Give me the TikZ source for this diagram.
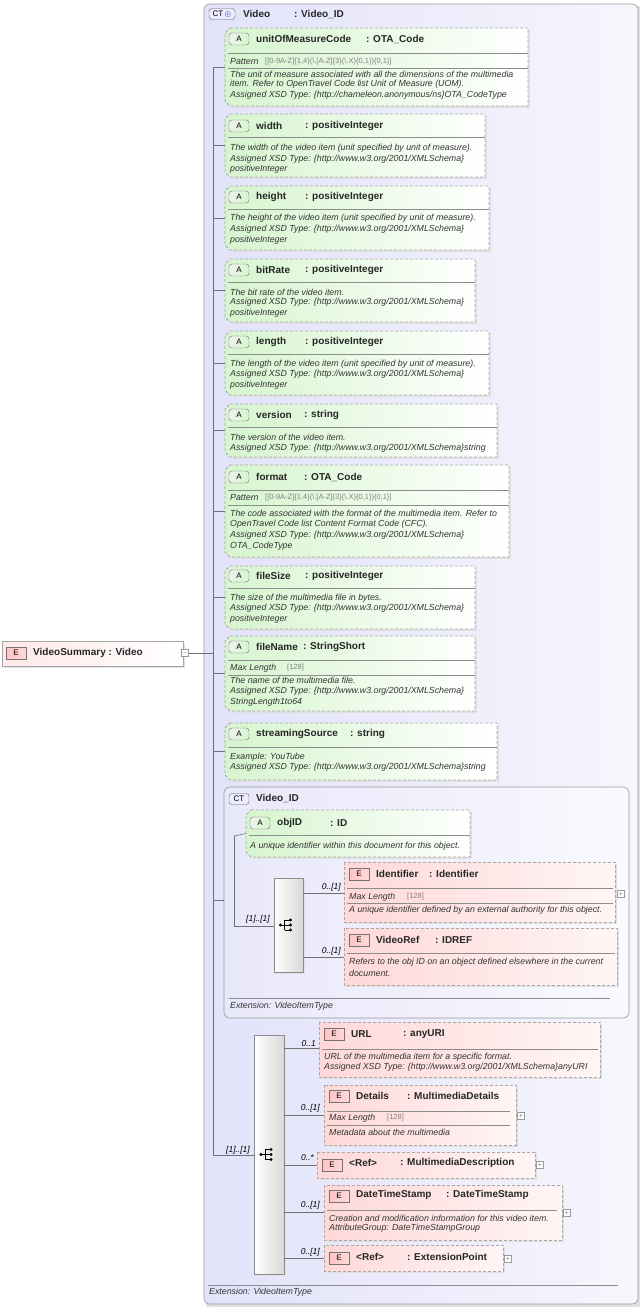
\documentclass[tikz,border=0pt]{standalone}
\usepackage{fontspec}
\setmainfont{Liberation Sans}
\usetikzlibrary{shapes.misc}
\definecolor{bord}{HTML}{A8A8A8}
\definecolor{ctf}{HTML}{E2E2FA}
\definecolor{grn}{HTML}{D6F5CE}
\definecolor{pnk}{HTML}{FFD8D8}
\definecolor{ln}{HTML}{707070}
\tikzset{
 dsh/.style={draw=bord,dash pattern=on 3pt off 2pt,line width=0.8pt},
 attrf/.style={dsh,left color=grn,right color=white},
 elf/.style={dsh,left color=pnk,right color=pnk!25},
 shad/.style={fill=black!12},
 con/.style={draw=ln,line width=0.6pt},
 ttl/.style={font=\bfseries\fontsize{10}{11}\selectfont,anchor=west,inner sep=0pt,text=black!85},
 dsc/.style={font=\itshape\fontsize{8.8}{9}\selectfont,anchor=west,inner sep=0pt,text=black!80},
 pat/.style={font=\fontsize{7.5}{8}\selectfont,anchor=west,inner sep=0pt,text=black!50},
 mult/.style={font=\itshape\fontsize{8.5}{9}\selectfont,anchor=east,inner sep=0pt},
 plusb/.style={draw=black!40,fill=white,minimum size=7pt,inner sep=0pt,font=\fontsize{7}{7}\selectfont,text=black!50},
}
\newcounter{tn}
\newcommand\txt[4]{\stepcounter{tn}\node[#1] (t\thetn) at (#2,-#3) {#4};}
\newcommand\sep[3]{\draw[draw=black!45,line width=0.5pt] (#1,-#3) -- (#2,-#3);}
\newcommand\abox[5]{%
 \fill[shad] (#2+7,-#3-2) -- (#4+2,-#3-2) -- (#4+2,-#5-2) -- (#2+7,-#5-2) -- cycle;
 \draw[attrf] (#2+5,-#3) -- (#4,-#3) -- (#4,-#5) -- (#2+5,-#5) -- (#2,-#5+5) -- (#2,-#3-5) -- cycle;
 \coordinate (#1) at (#2,{-(#3+#5)/2});}
\newcommand\ebox[5]{%
 \fill[shad] (#2+2,-#3-2) rectangle (#4+2,-#5-2);
 \draw[elf] (#2,-#3) rectangle (#4,-#5);
 \coordinate (#1) at (#2,{-(#3+#5)/2});}
\newcommand\badgeA[3]{\node[draw=black!55,left color=grn!80!black!20,right color=grn,rounded corners=3pt,minimum width=20pt,minimum height=12pt,inner sep=0pt,font=\fontsize{8}{8}\selectfont] (#1) at (#2+10,-#3) {A};}
\newcommand\badgeE[3]{\node[draw=black!55,left color=pnk!50!red!40,right color=pnk,minimum width=20pt,minimum height=12pt,inner sep=0pt,font=\fontsize{8}{8}\selectfont] (#1) at (#2+10,-#3) {E};}
\newcommand\plus[3]{\node[plusb] (#1) at (#2,-#3) {+};}
\begin{document}
\begin{tikzpicture}[x=1pt,y=1pt]
\useasboundingbox (0,0) rectangle (642,-1308);
\fill[shad] (206,-6) rectangle (640,-1307);
\draw[draw=black!40,left color=ctf,right color=ctf!30,rounded corners=6pt,line width=0.6pt] (204,-4) rectangle (638,-1304);
\node[draw=black!60,fill=ctf!70!blue!20,rounded corners=3pt,minimum width=26pt,minimum height=11pt,inner sep=0pt,font=\fontsize{8}{8}\selectfont] (ctb) at (222,-14) {CT\,\textcolor{blue!50!black}{$\oplus$}};
\txt{ttl}{243}{14}{Video}
\txt{ttl}{294}{14}{: Video\_ID}
\fill[shad] (4,-643) rectangle (185,-668);
\draw[draw=black!35,left color=pnk!60,right color=white] (2,-641) rectangle (183,-666);
\badgeE{rb}{6}{653}
\txt{ttl}{33}{653}{VideoSummary : Video}
\node[plusb] (minus) at (185,-653) {$-$};
\coordinate (spine) at (213,-653);
\draw[con] (minus.east) -- (spine);
\draw[con] (213,-67) -- (213,-1155);
\abox{a1}{225}{28}{528}{106}
\badgeA{b1}{229}{39}\txt{ttl}{256}{39}{unitOfMeasureCode}\txt{ttl}{366}{39}{: OTA\_Code}
\sep{228}{528}{53}\txt{dsc}{230}{62}{Pattern}\txt{pat}{265}{62}{[[0-9A-Z]\{1,4\}(\textbackslash.[A-Z]\{3\}(\textbackslash.X)\{0,1\})\{0,1\}]}
\sep{228}{528}{68}
\txt{dsc}{230}{74}{The unit of measure associated with all the dimensions of the multimedia}
\txt{dsc}{230}{84}{item. Refer to OpenTravel Code list Unit of Measure (UOM).}
\txt{dsc}{230}{95}{Assigned XSD Type: \{http://chameleon.anonymous/ns\}OTA\_CodeType}
\abox{a2}{225}{114}{485}{177}
\badgeA{b2}{229}{126}\txt{ttl}{256}{126}{width}\txt{ttl}{305}{126}{: positiveInteger}
\sep{228}{485}{137}
\txt{dsc}{230}{148}{The width of the video item (unit specified by unit of measure).}
\txt{dsc}{230}{159}{Assigned XSD Type: \{http://www.w3.org/2001/XMLSchema\}}
\txt{dsc}{230}{169}{positiveInteger}
\abox{a3}{225}{186}{489}{250}
\badgeA{b3}{229}{197}\txt{ttl}{256}{197}{height}\txt{ttl}{305}{197}{: positiveInteger}
\sep{228}{489}{209}
\txt{dsc}{230}{218}{The height of the video item (unit specified by unit of measure).}
\txt{dsc}{230}{229}{Assigned XSD Type: \{http://www.w3.org/2001/XMLSchema\}}
\txt{dsc}{230}{240}{positiveInteger}
\abox{a4}{225}{259}{475}{322}
\badgeA{b4}{229}{270}\txt{ttl}{256}{270}{bitRate}\txt{ttl}{305}{270}{: positiveInteger}
\sep{228}{475}{282}
\txt{dsc}{230}{292}{The bit rate of the video item.}
\txt{dsc}{230}{302}{Assigned XSD Type: \{http://www.w3.org/2001/XMLSchema\}}
\txt{dsc}{230}{313}{positiveInteger}
\abox{a5}{225}{331}{489}{395}
\badgeA{b5}{229}{342}\txt{ttl}{256}{342}{length}\txt{ttl}{305}{342}{: positiveInteger}
\sep{228}{489}{354}
\txt{dsc}{230}{364}{The length of the video item (unit specified by unit of measure).}
\txt{dsc}{230}{374}{Assigned XSD Type: \{http://www.w3.org/2001/XMLSchema\}}
\txt{dsc}{230}{385}{positiveInteger}
\abox{a6}{225}{404}{497}{457}
\badgeA{b6}{229}{415}\txt{ttl}{256}{415}{version}\txt{ttl}{304}{415}{: string}
\sep{228}{497}{427}
\txt{dsc}{230}{437}{The version of the video item.}
\txt{dsc}{230}{448}{Assigned XSD Type: \{http://www.w3.org/2001/XMLSchema\}string}
\abox{a7}{225}{465}{509}{557}
\badgeA{b7}{229}{477}\txt{ttl}{256}{477}{format}\txt{ttl}{304}{477}{: OTA\_Code}
\sep{228}{509}{490}\txt{dsc}{230}{498}{Pattern}\txt{pat}{265}{498}{[[0-9A-Z]\{1,4\}(\textbackslash.[A-Z]\{3\}(\textbackslash.X)\{0,1\})\{0,1\}]}
\sep{228}{509}{505}
\txt{dsc}{230}{513}{The code associated with the format of the multimedia item. Refer to}
\txt{dsc}{230}{524}{OpenTravel Code list Content Format Code (CFC).}
\txt{dsc}{230}{535}{Assigned XSD Type: \{http://www.w3.org/2001/XMLSchema\}}
\txt{dsc}{230}{546}{OTA\_CodeType}
\abox{a8}{225}{566}{475}{629}
\badgeA{b8}{229}{576}\txt{ttl}{256}{576}{fileSize}\txt{ttl}{305}{576}{: positiveInteger}
\sep{228}{475}{588}
\txt{dsc}{230}{598}{The size of the multimedia file in bytes.}
\txt{dsc}{230}{608}{Assigned XSD Type: \{http://www.w3.org/2001/XMLSchema\}}
\txt{dsc}{230}{619}{positiveInteger}
\abox{a9}{225}{636}{475}{711}
\badgeA{b9}{229}{647}\txt{ttl}{256}{647}{fileName}\txt{ttl}{303}{647}{: StringShort}
\sep{228}{475}{660}\txt{dsc}{230}{668}{Max Length}\txt{pat}{287}{668}{[128]}
\sep{228}{475}{675}
\txt{dsc}{230}{680}{The name of the multimedia  file.}
\txt{dsc}{230}{691}{Assigned XSD Type: \{http://www.w3.org/2001/XMLSchema\}}
\txt{dsc}{230}{702}{StringLength1to64}
\abox{a10}{225}{723}{497}{780}
\badgeA{b10}{229}{734}\txt{ttl}{256}{734}{streamingSource}\txt{ttl}{350}{734}{: string}
\sep{228}{497}{747}
\txt{dsc}{230}{757}{Example: YouTube}
\txt{dsc}{230}{767}{Assigned XSD Type: \{http://www.w3.org/2001/XMLSchema\}string}
\foreach \a in {a1,a2,a3,a4,a5,a6,a7,a8,a9,a10} \draw[con] (\a -| spine) -- (\a);
\draw[draw=black!40,left color=ctf!80,right color=ctf!20,rounded corners=6pt,line width=0.6pt] (224,-787) rectangle (629,-1018);
\coordinate (ctin) at (224,-900);
\draw[con] (ctin -| spine) -- (ctin);
\node[draw=black!60,fill=ctf!70!blue!20,rounded corners=3pt,minimum width=20pt,minimum height=11pt,inner sep=0pt,font=\fontsize{8}{8}\selectfont] (ct2) at (239,-799) {CT};
\txt{ttl}{256}{798}{Video\_ID}
\draw[con] (234,-836) -- (234,-926);
\abox{o1}{246}{810}{470}{857}
\badgeA{ob}{250}{823}\txt{ttl}{277}{823}{objID}\txt{ttl}{330}{823}{: ID}
\sep{249}{470}{835}
\txt{dsc}{250}{846}{A unique identifier within this document for this object.}
\draw[con] (234,-836) -- (o1);
\fill[shad] (276,-880) rectangle (305,-974);
\node[draw=black!45,left color=white,right color=black!15,minimum width=29pt,minimum height=94pt,inner sep=0pt] (seq1) at (288.5,-925) {};
\draw[con] (234,-926) -- (seq1.west |- 0,-926);
\txt{mult}{270}{919}{[1]..[1]}
\ebox{id}{344}{862}{615}{922}
\badgeE{idb}{349}{874}\txt{ttl}{376}{874}{Identifier}\txt{ttl}{429}{874}{: Identifier}
\sep{347}{613}{888}\txt{dsc}{349}{897}{Max Length}\txt{pat}{407}{897}{[128]}\sep{347}{613}{903}
\txt{dsc}{349}{910}{A unique identifier defined by an external authority for this object.}
\plus{idp}{621}{894}
\ebox{vr}{344}{928}{617}{985}
\badgeE{vrb}{349}{940}\txt{ttl}{376}{940}{VideoRef}\txt{ttl}{435}{940}{: IDREF}
\sep{347}{615}{953}
\txt{dsc}{349}{962}{Refers to the obj ID on an object defined elsewhere in the current}
\txt{dsc}{349}{973}{document.}
\draw[con] (seq1.east |- 0,-893) -- (344,-893);
\draw[con] (seq1.east |- 0,-957) -- (344,-957);
\txt{mult}{341}{887}{0..[1]}
\txt{mult}{341}{951}{0..[1]}
\sep{229}{610}{998}
\txt{dsc}{230}{1006}{Extension: VideoItemType}
\fill[shad] (256,-1037) rectangle (286,-1276);
\node[draw=black!45,left color=white,right color=black!15,minimum width=30pt,minimum height=239pt,inner sep=0pt] (seq2) at (269,-1154.5) {};
\coordinate (s2) at (213,-1155);
\draw[con] (s2) -- (seq2.west |- s2);
\txt{mult}{250}{1150}{[1]..[1]}
\foreach \s in {seq1,seq2}{
 \fill (\s) ++(-8,0) circle (1.6pt);
 \draw[line width=0.6pt] (\s) ++(-8,0) -- ++(4,0) ++(0,-5) -- ++(0,10) -- ++(5,0) ++(-5,-5) -- ++(5,0) ++(-5,-5) -- ++(5,0);
 \foreach \d in {-5,0,5} \fill (\s) ++(2,\d) circle (1.6pt);
}
\ebox{u}{319}{1022}{600}{1077}
\badgeE{ub}{324}{1034}\txt{ttl}{351}{1034}{URL}\txt{ttl}{403}{1034}{: anyURI}
\sep{322}{598}{1049}
\txt{dsc}{324}{1057}{URL of the multimedia item for a specific format.}
\txt{dsc}{324}{1067}{Assigned XSD Type: \{http://www.w3.org/2001/XMLSchema\}anyURI}
\ebox{d}{324}{1085}{516}{1145}
\badgeE{db}{329}{1096}\txt{ttl}{356}{1096}{Details}\txt{ttl}{407}{1096}{: MultimediaDetails}
\sep{327}{510}{1111}\txt{dsc}{329}{1118}{Max Length}\txt{pat}{387}{1118}{[128]}\sep{327}{510}{1125}
\txt{dsc}{329}{1132}{Metadata about the multimedia}
\plus{dp}{521}{1116}
\ebox{r1}{317}{1152}{535}{1178}
\badgeE{r1b}{322}{1165}\txt{ttl}{349}{1163}{<Ref>}\txt{ttl}{400}{1163}{: MultimediaDescription}
\plus{r1p}{540}{1165}
\ebox{dt}{324}{1185}{562}{1240}
\badgeE{dtb}{329}{1196}\txt{ttl}{356}{1195}{DateTimeStamp}\txt{ttl}{446}{1195}{: DateTimeStamp}
\sep{327}{557}{1210}
\txt{dsc}{329}{1218}{Creation and modification information for this video item.}
\txt{dsc}{329}{1228}{AttributeGroup: DateTimeStampGroup}
\plus{dtp}{567}{1213}
\ebox{ep}{324}{1245}{503}{1271}
\badgeE{epb}{329}{1258}\txt{ttl}{356}{1257}{<Ref>}\txt{ttl}{407}{1257}{: ExtensionPoint}
\plus{epp}{508}{1259}
\foreach \c/\yy in {u/1048,d/1115,r1/1165,dt/1212,ep/1258} \draw[con] (seq2.east |- 0,-\yy) -- (\c |- 0,-\yy);
\txt{mult}{316}{1044}{0..1}
\txt{mult}{320}{1108}{0..[1]}
\txt{mult}{314}{1158}{0..*}
\txt{mult}{320}{1205}{0..[1]}
\txt{mult}{320}{1252}{0..[1]}
\sep{208}{618}{1285}
\txt{dsc}{209}{1292}{Extension: VideoItemType}
\end{tikzpicture}
\end{document}
